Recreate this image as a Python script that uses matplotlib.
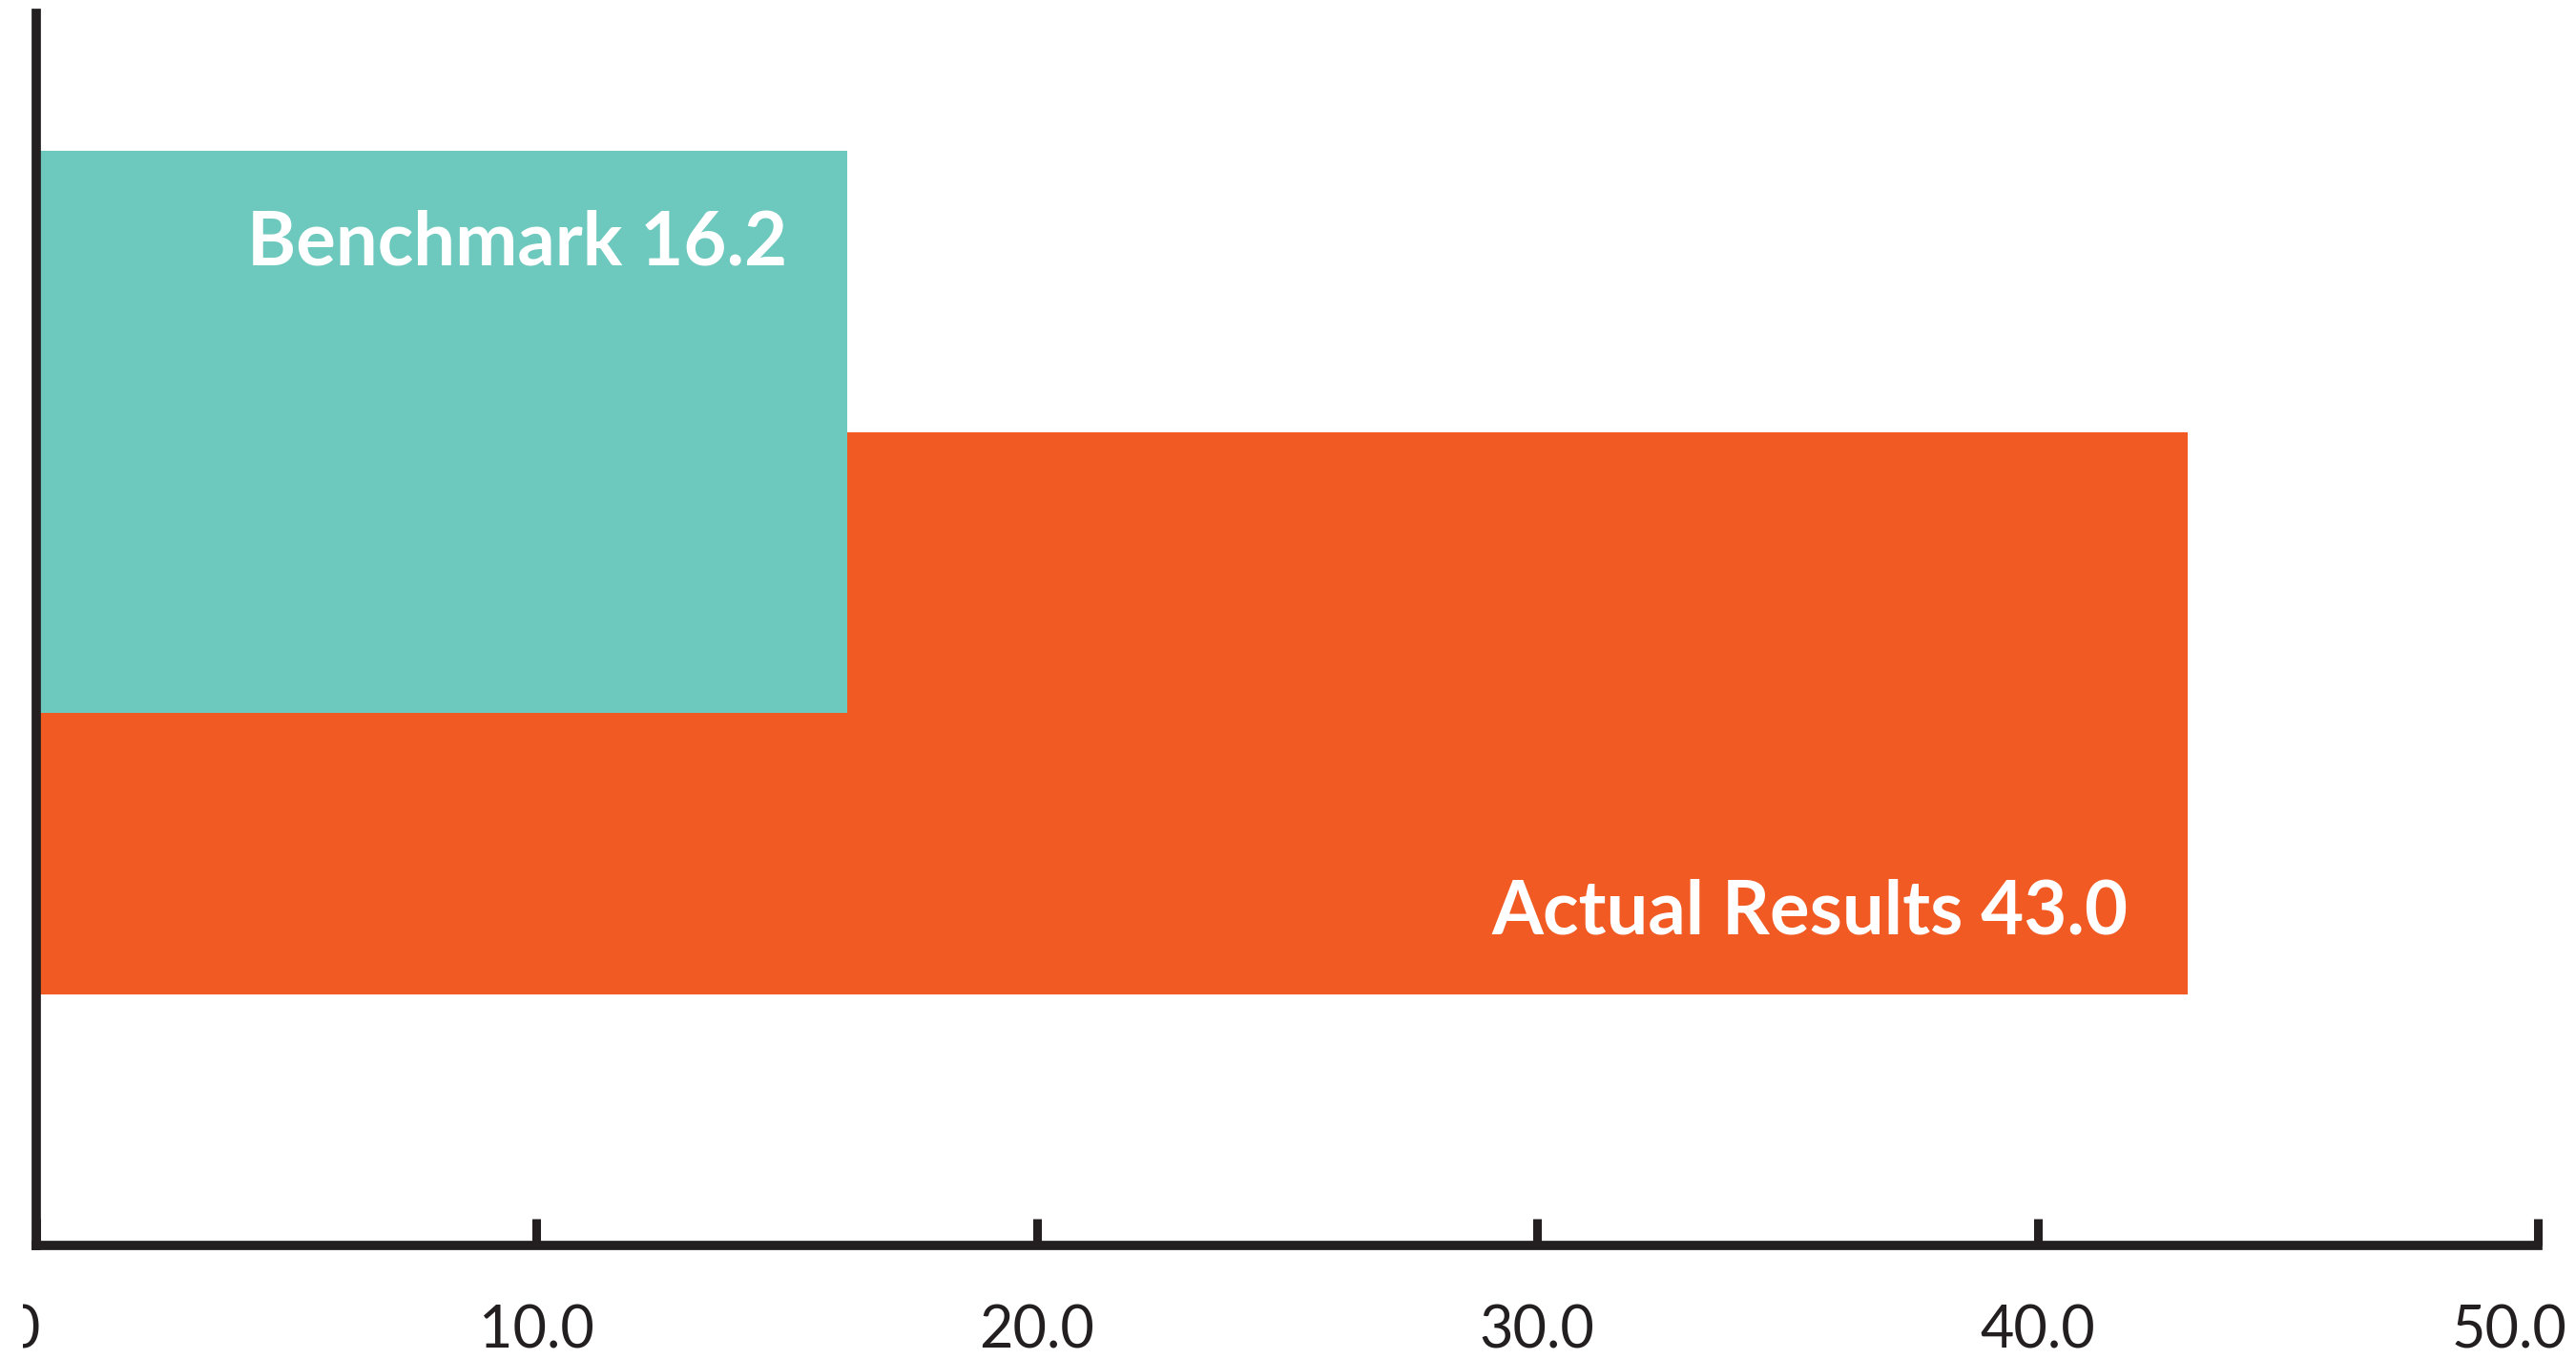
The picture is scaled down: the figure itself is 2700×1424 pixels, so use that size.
import matplotlib.pyplot as plt
from matplotlib.transforms import offset_copy, Bbox

# values
series = ['Actual Results', 'Benchmark']
values = [43.0, 16.2]
colors = ['#F15A22', '#6DC8BE']
positions = [0, 1]
xticks = [0, 10, 20, 30, 40, 50]
xtick_labels = ['0.0', '10.0', '20.0', '30.0', '40.0', '50.0']

dark = '#231F20'
plt.rcParams['font.family'] = ['Lato', 'DejaVu Sans']

fig = plt.figure(figsize=(27, 14.24), dpi=100)
ax = fig.add_axes([0.0141, 0.0836, 0.9711, 0.9064])

# overlapping bars, benchmark on top
for pos, val, col, z in zip(positions, values, colors, [2, 3]):
    ax.barh(pos, val, height=2.0, color=col, zorder=z, linewidth=0)

ax.set_xlim(0, 50)
ax.set_ylim(-1.895, 2.49)

for s in ['top', 'right']:
    ax.spines[s].set_visible(False)
for s in ['left', 'bottom']:
    ax.spines[s].set_color(dark)
    ax.spines[s].set_linewidth(7)
    ax.spines[s].set_zorder(5)

ax.set_yticks([])
ax.set_xticks(xticks)
ax.tick_params(axis='x', direction='in', length=20, width=6.5, color=dark,
               labelbottom=False)

# tick labels, edge ones pulled in like the original layout
trans = ax.get_xaxis_transform()
for t, lab in zip(xticks, xtick_labels):
    ha = 'center'
    tr = offset_copy(trans, fig=fig, x=0, y=-62, units='dots')
    if t == xticks[0]:
        ha = 'right'
        tr = offset_copy(trans, fig=fig, x=4, y=-62, units='dots')
    elif t == xticks[-1]:
        ha = 'right'
        tr = offset_copy(trans, fig=fig, x=30, y=-62, units='dots')
    txt = ax.text(t, 0, lab, transform=tr, ha=ha, va='top', fontsize=44,
                  color=dark, clip_on=False)
    if t == xticks[0]:
        # first label is trimmed at the left edge
        txt.set_clip_box(Bbox([[24, 0], [300, 300]]))
        txt.set_clip_on(True)

# value labels inside the bars
pad = offset_copy(ax.transData, fig=fig, x=-62, y=0, units='dots')
ax.text(values[1], positions[1] + 1 - 0.33, f'{series[1]} {values[1]:.1f}',
        transform=pad, ha='right', va='center', color='white',
        fontsize=56, fontweight='bold', zorder=6)
ax.text(values[0], positions[0] - 1 + 0.29, f'{series[0]} {values[0]:.1f}',
        transform=pad, ha='right', va='center', color='white',
        fontsize=56, fontweight='bold', zorder=6)

fig.savefig('out.png', dpi=100)
